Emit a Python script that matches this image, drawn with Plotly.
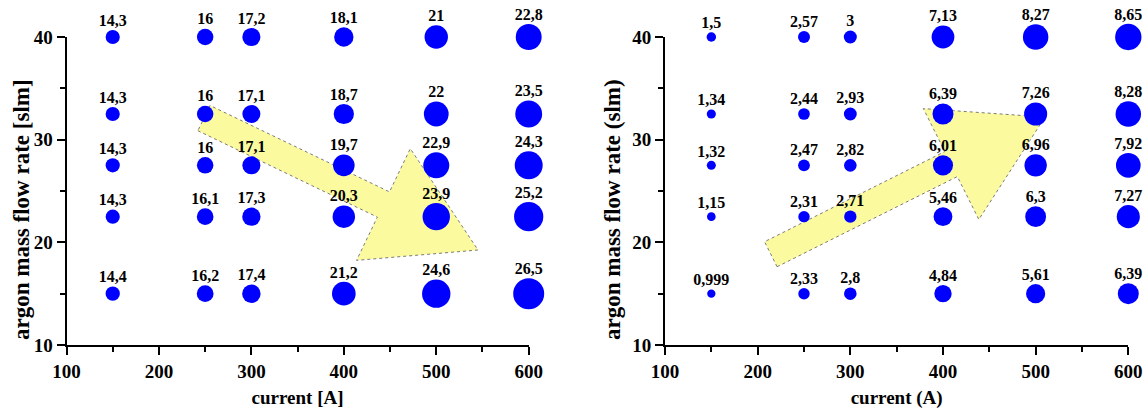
import plotly.graph_objects as go

# Measurement grid: arc current (A) and argon mass flow rate (slm)
current = [150, 250, 300, 400, 500, 600]
flow = [40, 32.5, 27.5, 22.5, 15]

# Left panel: one value per (flow, current) point, rows follow `flow`
left_vals = [
    [14.3, 16, 17.2, 18.1, 21, 22.8],
    [14.3, 16, 17.1, 18.7, 22, 23.5],
    [14.3, 16, 17.1, 19.7, 22.9, 24.3],
    [14.3, 16.1, 17.3, 20.3, 23.9, 25.2],
    [14.4, 16.2, 17.4, 21.2, 24.6, 26.5],
]

# Right panel values, same grid layout
right_vals = [
    [1.5, 2.57, 3, 7.13, 8.27, 8.65],
    [1.34, 2.44, 2.93, 6.39, 7.26, 8.28],
    [1.32, 2.47, 2.82, 6.01, 6.96, 7.92],
    [1.15, 2.31, 2.71, 5.46, 6.3, 7.27],
    [0.999, 2.33, 2.8, 4.84, 5.61, 6.39],
]

x_tick_vals = [100, 200, 300, 400, 500, 600]
y_tick_vals = [10, 20, 30, 40]

FONT = "Liberation Serif"
BLUE = "#0000FF"
W, H = 1143, 410
MARGIN = dict(l=0, r=0, t=37, b=65)
X_RANGE = [100, 600]
Y_RANGE = [10, 40]
DOM_L = [66.5 / W, 528.7 / W]
DOM_R = [665.0 / W, 1128.3 / W]


def flatten(vals):
    xs, ys, vs = [], [], []
    for fi, row in enumerate(vals):
        for ci, v in enumerate(row):
            xs.append(current[ci])
            ys.append(flow[fi])
            vs.append(v)
    return xs, ys, vs


def fmt(v):
    return f"{v:g}".replace(".", ",")


def bubble_traces(vals, d_min, v_min, slope, xa, ya):
    xs, ys, vs = flatten(vals)
    diam = [d_min + slope * (v - v_min) for v in vs]
    dots = go.Scatter(
        x=xs, y=ys, mode="markers", xaxis=xa, yaxis=ya,
        marker=dict(color=BLUE, size=diam, opacity=1, line=dict(width=0)),
        cliponaxis=False, showlegend=False, hoverinfo="skip",
    )
    # value labels sit just above each bubble
    labels = go.Scatter(
        x=xs, y=ys, mode="markers+text", xaxis=xa, yaxis=ya,
        text=[fmt(v) for v in vs], textposition="top center",
        textfont=dict(family=FONT, size=16, color="black", weight="bold"),
        marker=dict(size=[0.8 * (d - 1.5) for d in diam], opacity=0),
        cliponaxis=False, showlegend=False, hoverinfo="skip",
    )
    return [dots, labels]


def block_arrow(tail, tip, dom, xref, yref, shaft=14, head_w=62, head_len=105):
    """Yellow block arrow from tail to tip (data units), widths in pixels."""
    plot_w = (dom[1] - dom[0]) * W
    plot_h = H - MARGIN["t"] - MARGIN["b"]
    sx = plot_w / (X_RANGE[1] - X_RANGE[0])
    sy = plot_h / (Y_RANGE[1] - Y_RANGE[0])
    tx, ty = tail[0] * sx, -tail[1] * sy
    px, py = tip[0] * sx, -tip[1] * sy
    dx, dy = px - tx, py - ty
    L = (dx ** 2 + dy ** 2) ** 0.5
    ux, uy = dx / L, dy / L
    nx, ny = -uy, ux
    local = [(0, shaft), (L - head_len, shaft), (L - head_len, head_w), (L, 0),
             (L - head_len, -head_w), (L - head_len, -shaft), (0, -shaft)]
    pts = []
    for a, b in local:
        qx = tx + a * ux + b * nx
        qy = ty + a * uy + b * ny
        pts.append((qx / sx, -qy / sy))
    path = "M " + " L ".join(f"{x:.3f},{y:.3f}" for x, y in pts) + " Z"
    return dict(type="path", path=path, xref=xref, yref=yref, layer="below",
                fillcolor="#FCFA9E", line=dict(color="#7a7a7a", width=1, dash="dot"))


def y_title(text, x_px):
    """Vertical axis title placed as a paper annotation (pixel x centre)."""
    plot_h = H - MARGIN["t"] - MARGIN["b"]
    return dict(
        text=text, textangle=-90, showarrow=False,
        xref="paper", yref="paper", x=x_px / W, y=(H - MARGIN["b"] - 210) / plot_h,
        xanchor="center", yanchor="middle",
        font=dict(family=FONT, size=23, color="black", weight="bold"),
    )


fig = go.Figure()
for t in bubble_traces(left_vals, 14.3, 14.4, 1.38, "x", "y"):
    fig.add_trace(t)
for t in bubble_traces(right_vals, 8.3, 0.999, 2.36, "x2", "y2"):
    fig.add_trace(t)

tickfont = dict(family=FONT, size=19, color="black", weight="bold")
titlefont = dict(family=FONT, size=19, color="black", weight="bold")


def xaxis(dom, title, anchor):
    return dict(
        domain=dom, anchor=anchor, range=X_RANGE, tickvals=x_tick_vals,
        automargin=False,
        showline=True, linecolor="black", linewidth=2,
        ticks="outside", ticklen=8, tickwidth=2, tickcolor="black",
        minor=dict(ticks="outside", ticklen=5, tickwidth=2, tickcolor="black",
                   tick0=100, dtick=50),
        showgrid=False, zeroline=False, tickfont=tickfont,
        title=dict(text=title, font=titlefont, standoff=10),
    )


def yaxis(anchor):
    return dict(
        anchor=anchor, range=Y_RANGE, tickvals=y_tick_vals,
        automargin=False,
        showline=True, linecolor="black", linewidth=2,
        ticks="outside", ticklen=8, tickwidth=2, tickcolor="black",
        minor=dict(ticks="outside", ticklen=5, tickwidth=2, tickcolor="black",
                   tick0=10, dtick=5),
        showgrid=False, zeroline=False, tickfont=tickfont,
    )


fig.update_layout(
    width=W, height=H, margin=MARGIN,
    paper_bgcolor="white", plot_bgcolor="white",
    xaxis=xaxis(DOM_L, "current [A]", "y"),
    yaxis=yaxis("x"),
    xaxis2=xaxis(DOM_R, "current (A)", "y2"),
    yaxis2=yaxis("x2"),
    annotations=[
        y_title("argon mass flow rate [slm]", 21),
        y_title("argon mass flow rate (slm)", 612),
    ],
    shapes=[
        block_arrow((248.7, 32.1), (545.2, 19.25), DOM_L, "x", "y"),
        block_arrow((214.2, 18.84), (510.1, 32.2), DOM_R, "x2", "y2"),
    ],
)

fig.write_html("out.html")
